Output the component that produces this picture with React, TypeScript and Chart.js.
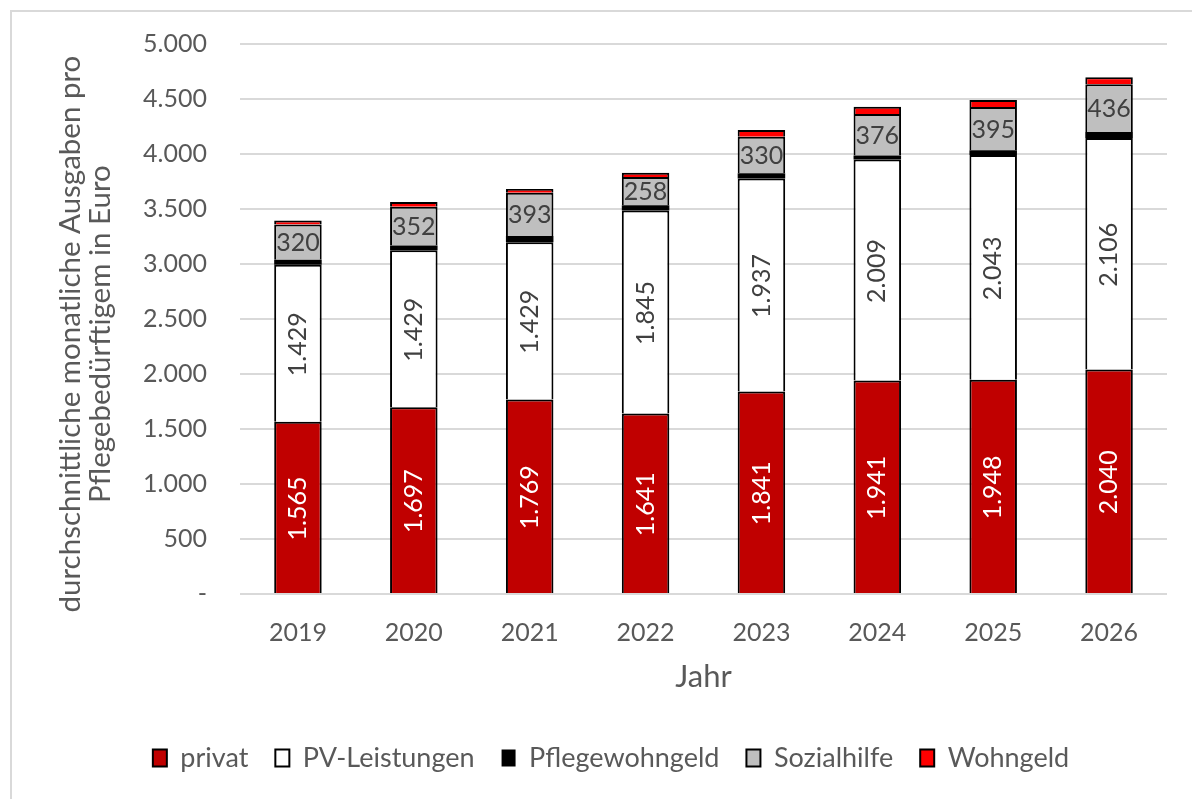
import { useEffect, useRef } from "react";
import { Chart, registerables } from "chart.js";

Chart.register(...registerables);

const years = ["2019", "2020", "2021", "2022", "2023", "2024", "2025", "2026"];
const privat = [1565, 1697, 1769, 1641, 1841, 1941, 1948, 2040];
const pvLeistungen = [1429, 1429, 1429, 1845, 1937, 2009, 2043, 2106];
const pflegewohngeld = [45, 43, 57, 47, 48, 37, 42, 53];
const sozialhilfe = [320, 352, 393, 258, 330, 376, 395, 436];
const wohngeld = [36, 43, 34, 39, 62, 67, 63, 62];
const yTickValues = [0, 500, 1000, 1500, 2000, 2500, 3000, 3500, 4000, 4500, 5000];

const FONT = "Lato";
const FS = 25;
const YTITLE_FS = 29.5;
const XTITLE_FS = 31;
const LEGEND_FS = 27;

const fmt = (n: number) => String(Math.round(n)).replace(/\B(?=(\d{3})+(?!\d))/g, ".");

const labelPlugin = {
  id: "segLabels",
  afterDatasetsDraw(chart: any) {
    const ctx = chart.ctx;
    ctx.save();
    ctx.font = `${FS}px ${FONT}`;
    ctx.textAlign = "center";
    ctx.textBaseline = "middle";
    [0, 1, 3].forEach((di) => {
      const meta = chart.getDatasetMeta(di);
      const ds = chart.data.datasets[di];
      meta.data.forEach((el: any, i: number) => {
        const { x, y, base } = el.getProps(["x", "y", "base"], true);
        const cy = (y + 2 + base) / 2;
        const text = fmt(ds.data[i]);
        ctx.fillStyle = di === 0 ? "#ffffff" : "#404040";
        if (di === 3) {
          ctx.fillText(text, x, cy);
        } else {
          ctx.save();
          ctx.translate(x, cy);
          ctx.rotate(-Math.PI / 2);
          ctx.fillText(text, 0, 0);
          ctx.restore();
        }
      });
    });
    ctx.restore();
  },
};

export default function App() {
  const ref = useRef<HTMLCanvasElement | null>(null);

  useEffect(() => {
    if (!ref.current) return;
    const common = {
      borderColor: "#000000",
      borderWidth: 2,
      borderSkipped: "start" as const,
      barPercentage: 0.41,
      categoryPercentage: 1,
    };
    const chart = new Chart(ref.current, {
      type: "bar",
      data: {
        labels: years,
        datasets: [
          { label: "privat", data: privat, backgroundColor: "#c00000", ...common },
          { label: "PV-Leistungen", data: pvLeistungen, backgroundColor: "#ffffff", ...common },
          { label: "Pflegewohngeld", data: pflegewohngeld, backgroundColor: "#000000", ...common, borderWidth: 0 },
          { label: "Sozialhilfe", data: sozialhilfe, backgroundColor: "#bfbfbf", ...common },
          { label: "Wohngeld", data: wohngeld, backgroundColor: "#ff0000", ...common },
        ],
      },
      options: {
        responsive: false,
        animation: false,
        devicePixelRatio: 1,
        layout: { padding: { left: 55, right: 25, top: 44, bottom: 17.5 } },
        plugins: {
          tooltip: { enabled: false },
          legend: {
            position: "bottom",
            labels: {
              font: { family: FONT, size: LEGEND_FS },
              color: "#595959",
              boxWidth: 14,
              boxHeight: 17,
              padding: 27,
            },
          },
        },
        scales: {
          x: {
            stacked: true,
            grid: { display: false },
            border: { display: false },
            ticks: { font: { family: FONT, size: FS }, color: "#595959", padding: 16 },
            title: {
              display: true,
              text: "Jahr",
              font: { family: FONT, size: XTITLE_FS, lineHeight: 0.97 },
              color: "#595959",
              padding: { top: 0, bottom: 25.5 },
            },
            afterFit: (s: any) => {
              s.height = 123.5;
              s.paddingLeft = 0;
              s.paddingRight = 0;
            },
          },
          y: {
            stacked: true,
            min: 0,
            max: 5000,
            afterBuildTicks: (s: any) => {
              s.ticks = yTickValues.map((v) => ({ value: v }));
            },
            grid: { color: "#d9d9d9", lineWidth: 2, drawTicks: false },
            border: { display: false },
            ticks: {
              font: { family: FONT, size: FS },
              color: "#595959",
              padding: 33,
              callback: (v: any) => (Number(v) === 0 ? "-" : fmt(Number(v))),
            },
            title: {
              display: true,
              text: ["durchschnittliche monatliche Ausgaben pro    ", "Pflegebedürftigem in Euro    "],
              font: { family: FONT, size: YTITLE_FS, lineHeight: 1.02 },
              color: "#595959",
              padding: { top: 0, bottom: 0 },
            },
            afterFit: (s: any) => {
              s.width = 185;
              s.paddingTop = 0;
              s.paddingBottom = 0;
            },
          },
        },
      },
      plugins: [labelPlugin],
    });
    return () => chart.destroy();
  }, []);

  return (
    <div
      style={{
        position: "fixed",
        left: 0,
        top: 0,
        width: 1192,
        height: 799,
        overflow: "hidden",
        background: "#ffffff",
      }}
    >
      <div
        style={{
          position: "absolute",
          left: 10,
          top: 10,
          width: 1300,
          height: 900,
          border: "2px solid #d9d9d9",
          boxSizing: "border-box",
        }}
      />
      <canvas
        ref={ref}
        width={1192}
        height={799}
        style={{ position: "absolute", left: 0, top: 0, width: 1192, height: 799 }}
      />
    </div>
  );
}
